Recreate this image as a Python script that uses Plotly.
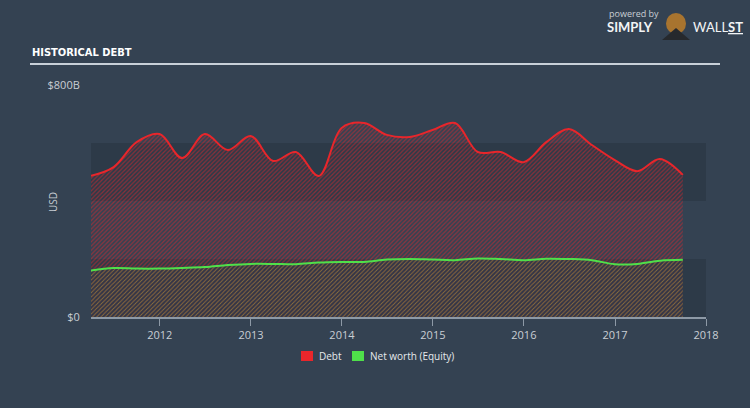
import plotly.graph_objects as go

# ---- data ----
dates = ["2011-03-31", "2011-06-30", "2011-09-30", "2011-12-31",
         "2012-03-31", "2012-06-30", "2012-09-30", "2012-12-31",
         "2013-03-31", "2013-06-30", "2013-09-30", "2013-12-31",
         "2014-03-31", "2014-06-30", "2014-09-30", "2014-12-31",
         "2015-03-31", "2015-06-30", "2015-09-30", "2015-12-31",
         "2016-03-31", "2016-06-30", "2016-09-30", "2016-12-31",
         "2017-03-31", "2017-06-30", "2017-09-30"]
debt = [487, 517, 603, 631, 548, 631, 576, 624, 538, 569, 486, 652,
        669, 628, 621, 645, 669, 569, 569, 534, 603, 648, 593, 541,
        503, 545, 490]
equity = [160, 169, 167, 167, 169, 172, 179, 183, 183, 182, 188, 190,
          190, 198, 200, 198, 196, 202, 200, 196, 201, 200, 196, 182,
          183, 194, 197]
year_ticks = ["2012-01-01", "2013-01-01", "2014-01-01", "2015-01-01",
              "2016-01-01", "2017-01-01", "2018-01-01"]
year_labels = ["2012", "2013", "2014", "2015", "2016", "2017", "2018"]
y_ticks = [0, 800]
y_labels = ["$0", "$800B"]
series_names = ["Debt", "Net worth (Equity)"]

BG = "#344252"
BAND = "#2d3a48"
RED = "#e8262b"
GREEN = "#4fe04a"
TXT = "#c9ced4"
FONT = "Open Sans, Roboto, sans-serif"

fig = go.Figure()

fig.add_trace(go.Scatter(
    x=dates, y=debt, name=series_names[0], mode="lines",
    line=dict(color=RED, width=2, shape="spline", smoothing=1.0),
    fill="tozeroy", fillcolor="rgba(0,0,0,0)",
    fillpattern=dict(shape="/", fgcolor=RED, bgcolor="rgba(0,0,0,0)",
                     size=3, solidity=0.4, fillmode="overlay"),
    hoverinfo="skip", showlegend=False))

fig.add_trace(go.Scatter(
    x=dates, y=equity, name=series_names[1], mode="lines",
    line=dict(color=GREEN, width=2, shape="spline", smoothing=1.0),
    fill="tozeroy", fillcolor="rgba(0,0,0,0)",
    fillpattern=dict(shape="/", fgcolor=GREEN, bgcolor="rgba(0,0,0,0)",
                     size=3, solidity=0.25, fillmode="overlay"),
    hoverinfo="skip", showlegend=False))


def px(x):
    return (x - 91) / 615


def py(y):
    return (317 - y) / 232


shapes = []
for y0, y1 in [(0, 200), (400, 600)]:
    shapes.append(dict(type="rect", xref="x", yref="y",
                       x0="2011-03-31", x1="2018-01-01", y0=y0, y1=y1,
                       fillcolor=BAND, line=dict(width=0), layer="below"))
# title underline
shapes.append(dict(type="line", xref="paper", yref="paper",
                   x0=px(30), x1=px(720), y0=py(64), y1=py(64),
                   line=dict(color="#c8d0d8", width=2)))
# legend swatches
shapes.append(dict(type="rect", xref="paper", yref="paper",
                   x0=px(301), x1=px(313), y0=py(361), y1=py(351),
                   fillcolor=RED, line=dict(width=0)))
shapes.append(dict(type="rect", xref="paper", yref="paper",
                   x0=px(352), x1=px(364), y0=py(361), y1=py(351),
                   fillcolor=GREEN, line=dict(width=0)))
# simple logo bull
shapes.append(dict(type="circle", xref="paper", yref="paper",
                   x0=px(666), x1=px(686), y0=py(34), y1=py(13),
                   fillcolor="#a8742f", line=dict(width=0)))
shapes.append(dict(type="path", xref="paper", yref="paper",
                   path=f"M {px(662)} {py(40)} L {px(676)} {py(28)} L {px(690)} {py(40)} Z",
                   fillcolor="#26292d", line=dict(width=0)))

annotations = [
    dict(text="<b>HISTORICAL DEBT</b>", xref="paper", yref="paper",
         x=px(30), y=py(52), xanchor="left", yanchor="middle", showarrow=False,
         font=dict(family="DejaVu Sans Condensed, Liberation Sans Narrow, Arial Narrow, sans-serif",
                   size=11, color="#ffffff")),
    dict(text="USD", xref="paper", yref="paper", x=px(53), y=py(202),
         textangle=-90, showarrow=False, xanchor="center", yanchor="middle",
         font=dict(family=FONT, size=10, color=TXT)),
    dict(text=series_names[0], xref="paper", yref="paper", x=px(317), y=py(356),
         xanchor="left", yanchor="middle", showarrow=False,
         font=dict(family=FONT, size=10, color="#e6e9ec")),
    dict(text=series_names[1], xref="paper", yref="paper", x=px(368), y=py(356),
         xanchor="left", yanchor="middle", showarrow=False,
         font=dict(family=FONT, size=10, color="#e6e9ec")),
    dict(text="powered by", xref="paper", yref="paper", x=px(607), y=py(14),
         xanchor="left", yanchor="middle", showarrow=False,
         font=dict(family=FONT, size=9, color="#c9ced4")),
    dict(text="<b>SIMPLY</b>", xref="paper", yref="paper", x=px(605), y=py(27),
         xanchor="left", yanchor="middle", showarrow=False,
         font=dict(family="Lato, Open Sans, sans-serif", size=13, color="#f2f4f6")),
    dict(text="WALL<b><u>ST</u></b>", xref="paper", yref="paper", x=px(691), y=py(27),
         xanchor="left", yanchor="middle", showarrow=False,
         font=dict(family="Lato, Open Sans, sans-serif", size=13, color="#f2f4f6")),
]

fig.update_layout(
    width=750, height=408,
    margin=dict(l=91, r=44, t=85, b=91),
    paper_bgcolor=BG, plot_bgcolor=BG,
    shapes=shapes, annotations=annotations,
    showlegend=False,
    xaxis=dict(type="date", range=["2011-03-31", "2018-01-01"],
               tickvals=year_ticks, ticktext=year_labels,
               showgrid=False, zeroline=False,
               showline=True, linecolor="#8d99a6", linewidth=1.5,
               ticks="outside", ticklen=7, tickcolor="#8d99a6", tickwidth=1,
               tickfont=dict(family=FONT, size=11, color=TXT)),
    yaxis=dict(range=[0, 800], tickvals=y_ticks, ticktext=y_labels,
               showgrid=False, zeroline=False, showline=False,
               ticks="outside", ticklen=8, tickcolor="rgba(0,0,0,0)",
               tickfont=dict(family=FONT, size=11, color=TXT)),
)

fig.write_html("out.html")
